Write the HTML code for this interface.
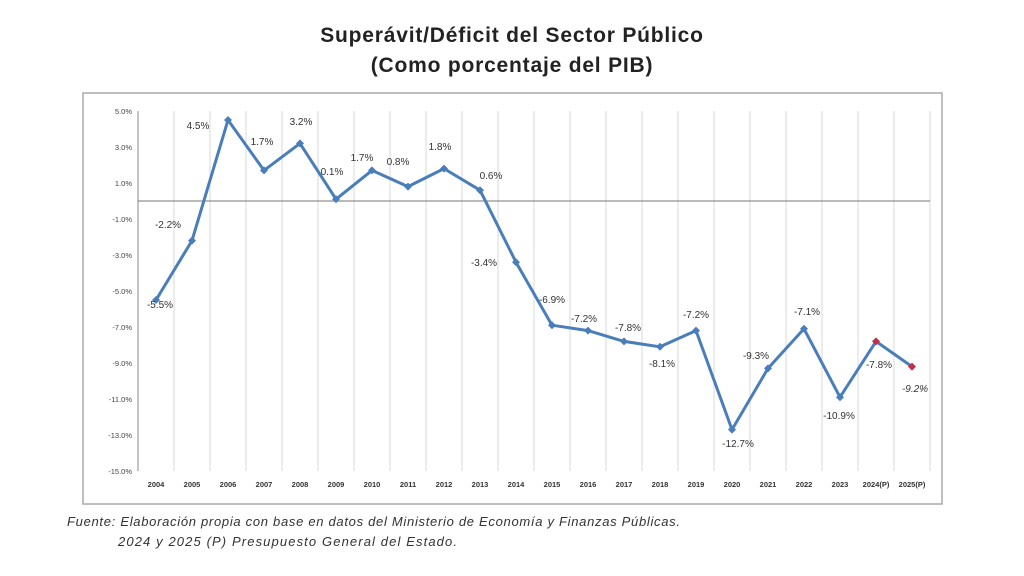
<!DOCTYPE html>
<html><head><meta charset="utf-8"><style>
body{margin:0;background:#fff;width:1024px;height:576px;overflow:hidden}
svg{display:block}
</style></head><body>
<svg width="1024" height="576" xmlns="http://www.w3.org/2000/svg" font-family="Liberation Sans, sans-serif">
<text x="512" y="42" text-anchor="middle" font-size="21" font-weight="bold" fill="#222" letter-spacing="0.8">Superávit/Déficit del Sector Público</text>
<text x="512" y="72" text-anchor="middle" font-size="21" font-weight="bold" fill="#222" letter-spacing="0.8">(Como porcentaje del PIB)</text>
<rect x="83" y="93" width="859" height="411" fill="#fff" stroke="#aaa" stroke-width="1.5"/>
<g stroke="#dadada" stroke-width="1">
<path d="M174 111V471M210 111V471M246 111V471M282 111V471M318 111V471M354 111V471M390 111V471M426 111V471M462 111V471M498 111V471M534 111V471M570 111V471M606 111V471M642 111V471M678 111V471M714 111V471M750 111V471M786 111V471M822 111V471M858 111V471M894 111V471M930 111V471"/>
</g>
<line x1="138" y1="111" x2="138" y2="471" stroke="#888"/>
<line x1="138" y1="201" x2="930" y2="201" stroke="#777"/>
<g font-size="7.5" fill="#444" text-anchor="end">
<text x="132" y="114">5.0%</text><text x="132" y="150">3.0%</text><text x="132" y="186">1.0%</text>
<text x="132" y="222">-1.0%</text><text x="132" y="258">-3.0%</text><text x="132" y="294">-5.0%</text>
<text x="132" y="330">-7.0%</text><text x="132" y="366">-9.0%</text><text x="132" y="402">-11.0%</text>
<text x="132" y="438">-13.0%</text><text x="132" y="474">-15.0%</text>
</g>
<g font-size="7.5" font-weight="bold" fill="#333" text-anchor="middle">
<text x="156" y="487">2004</text><text x="192" y="487">2005</text><text x="228" y="487">2006</text><text x="264" y="487">2007</text><text x="300" y="487">2008</text><text x="336" y="487">2009</text><text x="372" y="487">2010</text><text x="408" y="487">2011</text><text x="444" y="487">2012</text><text x="480" y="487">2013</text><text x="516" y="487">2014</text><text x="552" y="487">2015</text><text x="588" y="487">2016</text><text x="624" y="487">2017</text><text x="660" y="487">2018</text><text x="696" y="487">2019</text><text x="732" y="487">2020</text><text x="768" y="487">2021</text><text x="804" y="487">2022</text><text x="840" y="487">2023</text><text x="876" y="487">2024(P)</text><text x="912" y="487">2025(P)</text>
</g>
<polyline fill="none" stroke="#4a7ebb" stroke-width="3" stroke-linejoin="round" points="156,300 192,240.6 228,120 264,170.4 300,143.4 336,199.2 372,170.4 408,186.6 444,168.6 480,190.2 516,262.2 552,325.2 588,330.6 624,341.4 660,346.8 696,330.6 732,429.6 768,368.4 804,328.8 840,397.2 876,341.4 912,366.6"/>
<g fill="#4a7ebb">
<path d="M156 296l4 4-4 4-4-4z"/><path d="M192 236.6l4 4-4 4-4-4z"/><path d="M228 116l4 4-4 4-4-4z"/><path d="M264 166.4l4 4-4 4-4-4z"/><path d="M300 139.4l4 4-4 4-4-4z"/><path d="M336 195.2l4 4-4 4-4-4z"/><path d="M372 166.4l4 4-4 4-4-4z"/><path d="M408 182.6l4 4-4 4-4-4z"/><path d="M444 164.6l4 4-4 4-4-4z"/><path d="M480 186.2l4 4-4 4-4-4z"/><path d="M516 258.2l4 4-4 4-4-4z"/><path d="M552 321.2l4 4-4 4-4-4z"/><path d="M588 326.6l4 4-4 4-4-4z"/><path d="M624 337.4l4 4-4 4-4-4z"/><path d="M660 342.8l4 4-4 4-4-4z"/><path d="M696 326.6l4 4-4 4-4-4z"/><path d="M732 425.6l4 4-4 4-4-4z"/><path d="M768 364.4l4 4-4 4-4-4z"/><path d="M804 324.8l4 4-4 4-4-4z"/><path d="M840 393.2l4 4-4 4-4-4z"/>
</g>
<g fill="#c0304a"><path d="M876 337.4l4 4-4 4-4-4z"/><path d="M912 362.6l4 4-4 4-4-4z"/></g>
<g font-size="10" fill="#333" text-anchor="middle">
<text x="160" y="308">-5.5%</text><text x="168" y="228">-2.2%</text><text x="198" y="129">4.5%</text><text x="262" y="145">1.7%</text><text x="301" y="125">3.2%</text><text x="332" y="175">0.1%</text><text x="362" y="161">1.7%</text><text x="398" y="165">0.8%</text><text x="440" y="150">1.8%</text><text x="491" y="179">0.6%</text><text x="484" y="266">-3.4%</text><text x="552" y="303">-6.9%</text><text x="584" y="322">-7.2%</text><text x="628" y="331">-7.8%</text><text x="662" y="367">-8.1%</text><text x="696" y="318">-7.2%</text><text x="738" y="447">-12.7%</text><text x="756" y="359">-9.3%</text><text x="807" y="315">-7.1%</text><text x="839" y="419">-10.9%</text><text x="879" y="368">-7.8%</text><text x="915" y="392" font-style="italic">-9.2%</text>
</g>
<g font-size="13" font-style="italic" fill="#333">
<text x="67" y="526" textLength="613" lengthAdjust="spacing">Fuente: Elaboración propia con base en datos del Ministerio de Economía y Finanzas Públicas.</text>
<text x="118" y="546" textLength="339" lengthAdjust="spacing">2024 y 2025 (P) Presupuesto General del Estado.</text>
</g>
</svg>
</body></html>
